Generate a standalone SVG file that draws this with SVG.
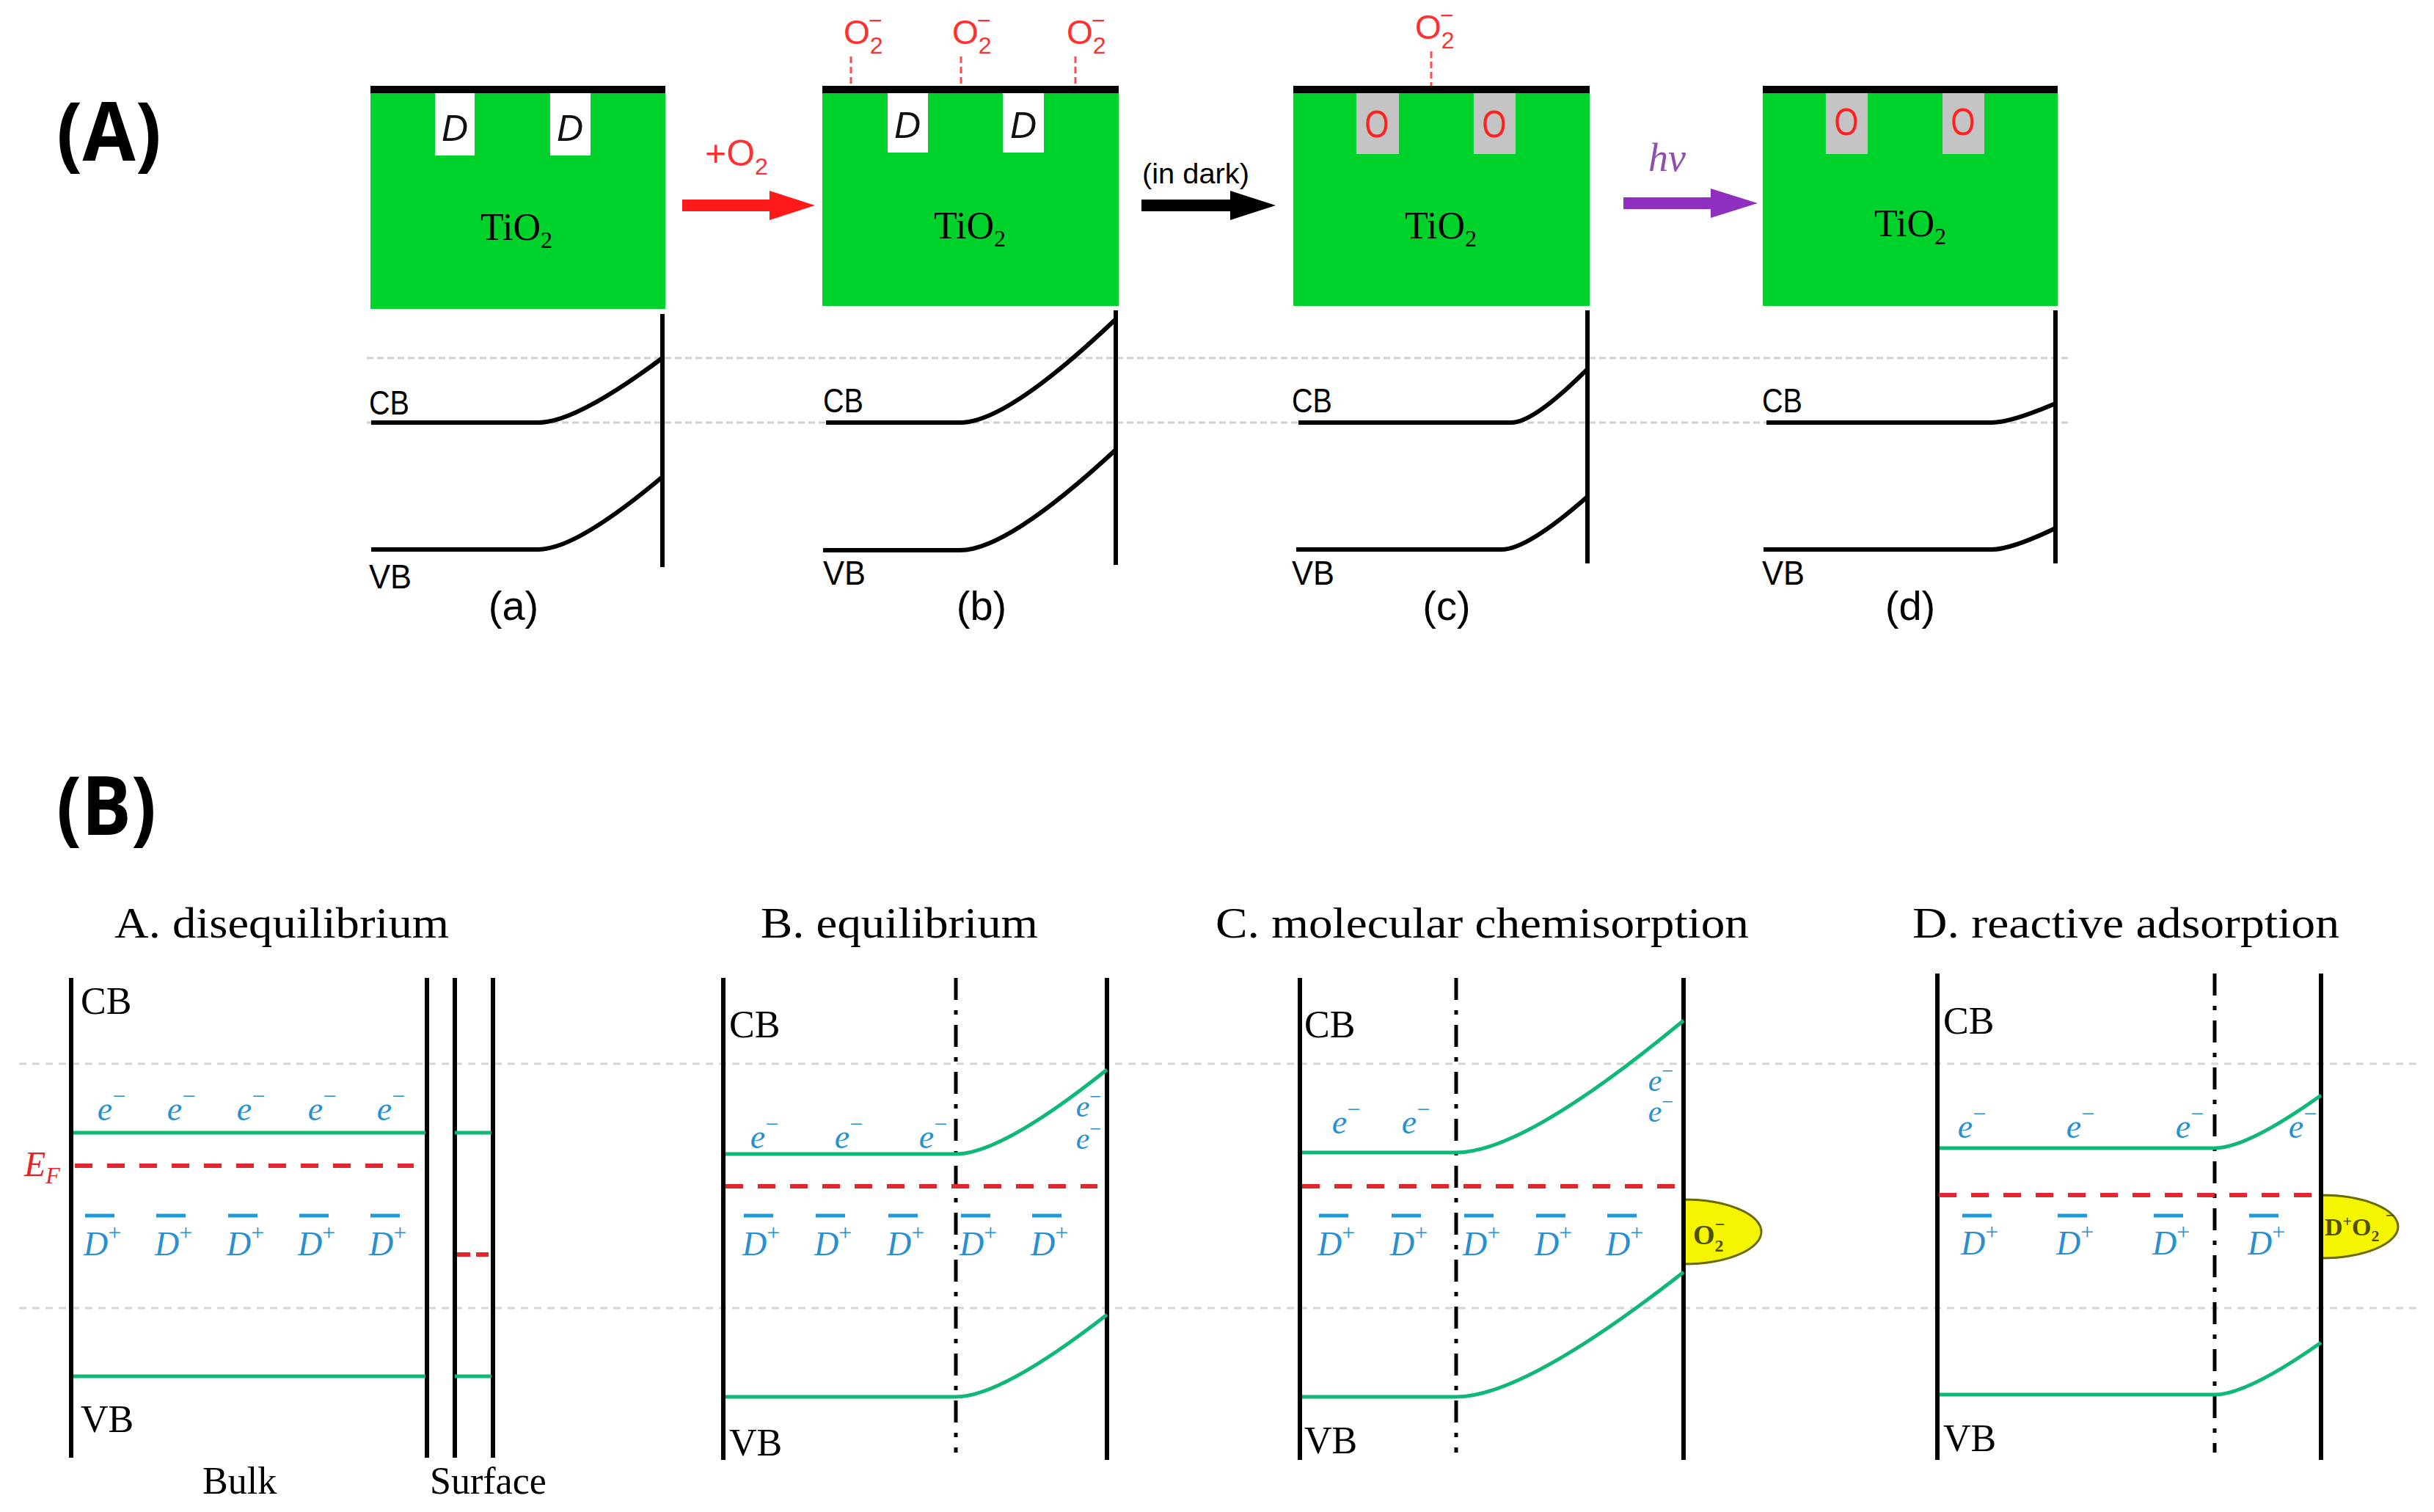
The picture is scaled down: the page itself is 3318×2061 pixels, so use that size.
<svg xmlns="http://www.w3.org/2000/svg" width="3318" height="2061" viewBox="0 0 3318 2061">
<style>
.panel{font-family:"Open Sans","Liberation Sans",sans-serif;font-weight:bold;font-size:112px;fill:#000}
.box{fill:#00d22c}
.bar{fill:#000}
.slotw{fill:#fff}
.slotg{fill:#c4c4c4}
.dlab{font-family:"Liberation Sans",sans-serif;font-style:italic;font-size:50px;fill:#111;text-anchor:middle}
.olab{font-family:"Liberation Sans",sans-serif;font-size:52px;fill:#ff2020;text-anchor:middle}
.tio{font-family:"Liberation Serif",serif;font-size:52px;fill:#000;text-anchor:middle}
.sub{font-size:32px}
.o2r{font-family:"Liberation Sans",sans-serif;font-size:46px;fill:#ff3030}
.rdash{stroke:#ff4a4a;stroke-width:3;stroke-dasharray:9 5;fill:none}
.gdash{stroke:#cfcfcf;stroke-width:3;stroke-dasharray:9 5;fill:none}
.band{stroke:#000;stroke-width:6;fill:none}
.wall{stroke:#000;stroke-width:6}
.lblA{font-family:"Liberation Sans",sans-serif;font-size:46px;fill:#000}
.cap{font-family:"Liberation Sans",sans-serif;font-size:56px;fill:#000;text-anchor:middle}
.arlab{font-family:"Liberation Sans",sans-serif;font-size:38px;fill:#000}
.title{font-family:"Liberation Serif",serif;font-size:60px;fill:#000}
.lblB{font-family:"Liberation Serif",serif;font-size:52px;fill:#000}
.gdot{stroke:#d6d6d6;stroke-width:3;stroke-dasharray:10 8}
.gband{stroke:#0fb877;stroke-width:5;fill:none}
.ef{stroke:#e3262e;stroke-width:6;stroke-dasharray:24 20}
.dd{stroke:#000;stroke-width:5;stroke-dasharray:30 14 6 14}
.el{font-family:"Liberation Serif",serif;font-style:italic;font-size:46px;fill:#2a8fd0}
.sp{font-style:normal;font-size:32px}
.ov{stroke:#1e9ad8;stroke-width:5}
.yel{fill:#f5f500;stroke:#6a6a00;stroke-width:3}
.ylab{font-family:"Liberation Serif",serif;font-weight:bold;font-size:38px;fill:#4f4f00}
</style>
<rect width="3318" height="2061" fill="#fff"/>

<!-- ===== Panel A ===== -->
<text class="panel" x="77" y="219" textLength="143" lengthAdjust="spacingAndGlyphs">(A)</text>

<g id="connectors">
  <g id="arrow-o2">
    <polygon points="930,272 1049,272 1049,260 1111,280 1049,300 1049,288 930,288" fill="#ff1a1a"/>
    <text x="961" y="226" class="o2r" style="font-size:50px">+O<tspan class="sub" dy="12">2</tspan></text>
  </g>
  <g id="arrow-dark">
    <polygon points="1556,272 1677,272 1677,260 1739,280 1677,300 1677,288 1556,288" fill="#000"/>
    <text class="arlab" x="1557" y="250" textLength="146" lengthAdjust="spacingAndGlyphs">(in dark)</text>
  </g>
  <g id="arrow-hv">
    <polygon points="2213,269 2332,269 2332,257 2396,277 2332,297 2332,285 2213,285" fill="#8e2fbf"/>
    <text x="2247" y="233" style="font-family:'Liberation Serif',serif;font-style:italic;font-size:54px;fill:#8e4fae">hν</text>
  </g>
</g>

<line class="gdash" x1="500" y1="488" x2="2820" y2="488"/>
<line class="gdash" x1="500" y1="576" x2="2820" y2="576"/>

<g id="node-a">
  <rect class="box" x="505" y="127" width="402" height="294"/>
  <rect class="bar" x="505" y="117" width="402" height="10"/>
  <rect class="slotw" x="593" y="127" width="54" height="85"/>
  <rect class="slotw" x="750" y="127" width="55" height="85"/>
  <text class="dlab" x="620" y="192">D</text>
  <text class="dlab" x="777" y="192">D</text>
  <text class="tio" x="704" y="327">TiO<tspan class="sub" dy="11">2</tspan></text>
  <line class="wall" x1="903" y1="428" x2="903" y2="773"/>
  <path class="band" d="M506,576 H734 Q785,576 903,488"/>
  <path class="band" d="M506,749 H734 Q785,749 903,650"/>
  <text class="lblA" x="503" y="565" textLength="55" lengthAdjust="spacingAndGlyphs">CB</text>
  <text class="lblA" x="503" y="802" textLength="58" lengthAdjust="spacingAndGlyphs">VB</text>
  <text class="cap" x="700" y="845">(a)</text>
</g>

<g id="node-b">
  <rect class="box" x="1121" y="127" width="404" height="290"/>
  <rect class="bar" x="1121" y="117" width="404" height="10"/>
  <rect class="slotw" x="1210" y="127" width="55" height="81"/>
  <rect class="slotw" x="1367" y="127" width="56" height="81"/>
  <text class="dlab" x="1237" y="188">D</text>
  <text class="dlab" x="1395" y="188">D</text>
  <text class="tio" x="1322" y="325">TiO<tspan class="sub" dy="11">2</tspan></text>
  <line class="rdash" x1="1160" y1="77" x2="1160" y2="117"/>
  <line class="rdash" x1="1310" y1="77" x2="1310" y2="117"/>
  <line class="rdash" x1="1466" y1="77" x2="1466" y2="117"/>
  <text class="o2r" x="1150" y="60">O<tspan class="sub" dy="13">2</tspan><tspan class="sub" x="1184" dy="-34">−</tspan></text>
  <text class="o2r" x="1298" y="60">O<tspan class="sub" dy="13">2</tspan><tspan class="sub" x="1332" dy="-34">−</tspan></text>
  <text class="o2r" x="1454" y="60">O<tspan class="sub" dy="13">2</tspan><tspan class="sub" x="1488" dy="-34">−</tspan></text>
  <line class="wall" x1="1521" y1="423" x2="1521" y2="770"/>
  <path class="band" d="M1126,576 H1309 Q1373,576 1521,435"/>
  <path class="band" d="M1122,750 H1309 Q1373,750 1521,613"/>
  <text class="lblA" x="1122" y="562" textLength="55" lengthAdjust="spacingAndGlyphs">CB</text>
  <text class="lblA" x="1122" y="797" textLength="58" lengthAdjust="spacingAndGlyphs">VB</text>
  <text class="cap" x="1338" y="845">(b)</text>
</g>

<g id="node-c">
  <rect class="box" x="1763" y="127" width="404" height="290"/>
  <rect class="bar" x="1763" y="117" width="404" height="10"/>
  <rect class="slotg" x="1849" y="127" width="58" height="83"/>
  <rect class="slotg" x="2009" y="127" width="57" height="83"/>
  <text class="olab" x="1877" y="187" textLength="33" lengthAdjust="spacingAndGlyphs">O</text>
  <text class="olab" x="2037" y="187" textLength="33" lengthAdjust="spacingAndGlyphs">O</text>
  <text class="tio" x="1964" y="325">TiO<tspan class="sub" dy="11">2</tspan></text>
  <line class="rdash" x1="1951" y1="70" x2="1951" y2="117"/>
  <text class="o2r" x="1929" y="53">O<tspan class="sub" dy="13">2</tspan><tspan class="sub" x="1963" dy="-34">−</tspan></text>
  <line class="wall" x1="2164" y1="423" x2="2164" y2="768"/>
  <path class="band" d="M1770,576 H2060 Q2091,576 2164,503"/>
  <path class="band" d="M1767,749 H2047 Q2082,749 2164,677"/>
  <text class="lblA" x="1761" y="562" textLength="55" lengthAdjust="spacingAndGlyphs">CB</text>
  <text class="lblA" x="1761" y="797" textLength="58" lengthAdjust="spacingAndGlyphs">VB</text>
  <text class="cap" x="1972" y="845">(c)</text>
</g>

<g id="node-d">
  <rect class="box" x="2403" y="127" width="402" height="290"/>
  <rect class="bar" x="2403" y="117" width="402" height="10"/>
  <rect class="slotg" x="2489" y="127" width="57" height="83"/>
  <rect class="slotg" x="2648" y="127" width="57" height="83"/>
  <text class="olab" x="2517" y="184" textLength="33" lengthAdjust="spacingAndGlyphs">O</text>
  <text class="olab" x="2676" y="184" textLength="33" lengthAdjust="spacingAndGlyphs">O</text>
  <text class="tio" x="2604" y="322">TiO<tspan class="sub" dy="11">2</tspan></text>
  <line class="wall" x1="2802" y1="423" x2="2802" y2="768"/>
  <path class="band" d="M2408,576 H2715 Q2741,576 2802,550"/>
  <path class="band" d="M2404,749 H2715 Q2741,749 2802,720"/>
  <text class="lblA" x="2402" y="562" textLength="55" lengthAdjust="spacingAndGlyphs">CB</text>
  <text class="lblA" x="2402" y="797" textLength="58" lengthAdjust="spacingAndGlyphs">VB</text>
  <text class="cap" x="2604" y="845">(d)</text>
</g>

<!-- ===== Panel B ===== -->
<text class="panel" x="77" y="1138" textLength="136" lengthAdjust="spacingAndGlyphs">(B)</text>

<line class="gdot" x1="26" y1="1450" x2="3300" y2="1450"/>
<line class="gdot" x1="26" y1="1783" x2="3300" y2="1783"/>

<g id="node-disequilibrium">
  <text class="title" x="156" y="1278" textLength="456" lengthAdjust="spacingAndGlyphs">A. disequilibrium</text>
  <line class="wall" x1="97" y1="1333" x2="97" y2="1987"/>
  <line class="wall" x1="582" y1="1333" x2="582" y2="1987"/>
  <line class="wall" x1="620" y1="1333" x2="620" y2="1987"/>
  <line class="wall" x1="672" y1="1333" x2="672" y2="1987"/>
  <line class="gband" x1="100" y1="1544" x2="580" y2="1544"/>
  <line class="gband" x1="620" y1="1544" x2="670" y2="1544"/>
  <line class="gband" x1="100" y1="1876" x2="580" y2="1876"/>
  <line class="gband" x1="620" y1="1876" x2="670" y2="1876"/>
  <line class="ef" x1="102" y1="1589" x2="564" y2="1589"/>
  <line class="ef" x1="623" y1="1710" x2="666" y2="1710" style="stroke-dasharray:18 8"/>
  <text x="33" y="1603" style="font-family:'Liberation Serif',serif;font-style:italic;font-size:48px;fill:#e3262e">E<tspan font-size="32" dy="10">F</tspan></text>
  <text class="lblB" x="110" y="1382">CB</text>
  <text class="lblB" x="110" y="1952">VB</text>
  <text class="lblB" x="276" y="2036">Bulk</text>
  <text class="lblB" x="586" y="2036">Surface</text>
  <g text-anchor="middle">
    <text class="el" x="152" y="1527">e<tspan class="sp" dy="-22">−</tspan></text>
    <text class="el" x="247" y="1527">e<tspan class="sp" dy="-22">−</tspan></text>
    <text class="el" x="342" y="1527">e<tspan class="sp" dy="-22">−</tspan></text>
    <text class="el" x="439" y="1527">e<tspan class="sp" dy="-22">−</tspan></text>
    <text class="el" x="533" y="1527">e<tspan class="sp" dy="-22">−</tspan></text>
  </g>
  <line class="ov" x1="116" y1="1657" x2="156" y2="1657"/>
  <line class="ov" x1="213" y1="1657" x2="253" y2="1657"/>
  <line class="ov" x1="311" y1="1657" x2="351" y2="1657"/>
  <line class="ov" x1="408" y1="1657" x2="448" y2="1657"/>
  <line class="ov" x1="505" y1="1657" x2="545" y2="1657"/>
  <text class="el" x="114" y="1711">D<tspan class="sp" dy="-20">+</tspan></text>
  <text class="el" x="211" y="1711">D<tspan class="sp" dy="-20">+</tspan></text>
  <text class="el" x="309" y="1711">D<tspan class="sp" dy="-20">+</tspan></text>
  <text class="el" x="406" y="1711">D<tspan class="sp" dy="-20">+</tspan></text>
  <text class="el" x="503" y="1711">D<tspan class="sp" dy="-20">+</tspan></text>
</g>

<g id="node-equilibrium">
  <text class="title" x="1037" y="1278" textLength="378" lengthAdjust="spacingAndGlyphs">B. equilibrium</text>
  <line class="wall" x1="986" y1="1333" x2="986" y2="1990"/>
  <line class="wall" x1="1509" y1="1333" x2="1509" y2="1990"/>
  <line class="dd" x1="1303" y1="1333" x2="1303" y2="1980"/>
  <path class="gband" d="M989,1573 H1303 Q1365,1573 1509,1458"/>
  <path class="gband" d="M989,1904 H1303 Q1365,1904 1509,1792"/>
  <line class="ef" x1="989" y1="1617" x2="1496" y2="1617"/>
  <text class="lblB" x="994" y="1414">CB</text>
  <text class="lblB" x="994" y="1984">VB</text>
  <g text-anchor="middle">
    <text class="el" x="1042" y="1565">e<tspan class="sp" dy="-22">−</tspan></text>
    <text class="el" x="1157" y="1565">e<tspan class="sp" dy="-22">−</tspan></text>
    <text class="el" x="1272" y="1565">e<tspan class="sp" dy="-22">−</tspan></text>
    <text class="el" x="1484" y="1522" style="font-size:42px">e<tspan class="sp" dy="-18" style="font-size:28px">−</tspan></text>
    <text class="el" x="1484" y="1566" style="font-size:42px">e<tspan class="sp" dy="-18" style="font-size:28px">−</tspan></text>
  </g>
  <line class="ov" x1="1014" y1="1657" x2="1054" y2="1657"/>
  <line class="ov" x1="1112" y1="1657" x2="1152" y2="1657"/>
  <line class="ov" x1="1211" y1="1657" x2="1251" y2="1657"/>
  <line class="ov" x1="1310" y1="1657" x2="1350" y2="1657"/>
  <line class="ov" x1="1407" y1="1657" x2="1447" y2="1657"/>
  <text class="el" x="1012" y="1711">D<tspan class="sp" dy="-20">+</tspan></text>
  <text class="el" x="1110" y="1711">D<tspan class="sp" dy="-20">+</tspan></text>
  <text class="el" x="1209" y="1711">D<tspan class="sp" dy="-20">+</tspan></text>
  <text class="el" x="1308" y="1711">D<tspan class="sp" dy="-20">+</tspan></text>
  <text class="el" x="1405" y="1711">D<tspan class="sp" dy="-20">+</tspan></text>
</g>

<g id="node-molecular-chemisorption">
  <text class="title" x="1657" y="1278" textLength="727" lengthAdjust="spacingAndGlyphs">C. molecular chemisorption</text>
  <path class="yel" d="M2295,1635 A106,44 0 0 1 2295,1723 Z"/>
  <line class="wall" x1="1772" y1="1333" x2="1772" y2="1990"/>
  <line class="wall" x1="2295" y1="1333" x2="2295" y2="1990"/>
  <line class="dd" x1="1985" y1="1333" x2="1985" y2="1980"/>
  <path class="gband" d="M1775,1571 H1985 Q2078,1571 2295,1391"/>
  <path class="gband" d="M1775,1904 H1985 Q2078,1904 2295,1734"/>
  <line class="ef" x1="1775" y1="1617" x2="2283" y2="1617"/>
  <text class="lblB" x="1778" y="1414">CB</text>
  <text class="lblB" x="1778" y="1981">VB</text>
  <g text-anchor="middle">
    <text class="el" x="1835" y="1545">e<tspan class="sp" dy="-22">−</tspan></text>
    <text class="el" x="1930" y="1545">e<tspan class="sp" dy="-22">−</tspan></text>
    <text class="el" x="2264" y="1487" style="font-size:42px">e<tspan class="sp" dy="-18" style="font-size:28px">−</tspan></text>
    <text class="el" x="2264" y="1529" style="font-size:42px">e<tspan class="sp" dy="-18" style="font-size:28px">−</tspan></text>
  </g>
  <line class="ov" x1="1798" y1="1657" x2="1838" y2="1657"/>
  <line class="ov" x1="1897" y1="1657" x2="1937" y2="1657"/>
  <line class="ov" x1="1996" y1="1657" x2="2036" y2="1657"/>
  <line class="ov" x1="2094" y1="1657" x2="2134" y2="1657"/>
  <line class="ov" x1="2191" y1="1657" x2="2231" y2="1657"/>
  <text class="el" x="1796" y="1711">D<tspan class="sp" dy="-20">+</tspan></text>
  <text class="el" x="1895" y="1711">D<tspan class="sp" dy="-20">+</tspan></text>
  <text class="el" x="1994" y="1711">D<tspan class="sp" dy="-20">+</tspan></text>
  <text class="el" x="2092" y="1711">D<tspan class="sp" dy="-20">+</tspan></text>
  <text class="el" x="2189" y="1711">D<tspan class="sp" dy="-20">+</tspan></text>
  <text class="ylab" x="2308" y="1696">O<tspan font-size="24" dy="10">2</tspan><tspan font-size="24" x="2338" dy="-29">−</tspan></text>
</g>

<g id="node-reactive-adsorption">
  <text class="title" x="2607" y="1278" textLength="582" lengthAdjust="spacingAndGlyphs">D. reactive adsorption</text>
  <path class="yel" d="M3164,1629 A105,43 0 0 1 3164,1715 Z"/>
  <line class="wall" x1="2641" y1="1327" x2="2641" y2="1990"/>
  <line class="wall" x1="3164" y1="1327" x2="3164" y2="1990"/>
  <line class="dd" x1="3019" y1="1327" x2="3019" y2="1980"/>
  <path class="gband" d="M2644,1565 H3019 Q3063,1565 3164,1493"/>
  <path class="gband" d="M2644,1901 H3019 Q3063,1901 3164,1830"/>
  <line class="ef" x1="2643" y1="1629" x2="3152" y2="1629"/>
  <text class="lblB" x="2649" y="1409">CB</text>
  <text class="lblB" x="2649" y="1978">VB</text>
  <g text-anchor="middle">
    <text class="el" x="2688" y="1551">e<tspan class="sp" dy="-22">−</tspan></text>
    <text class="el" x="2836" y="1551">e<tspan class="sp" dy="-22">−</tspan></text>
    <text class="el" x="2985" y="1551">e<tspan class="sp" dy="-22">−</tspan></text>
    <text class="el" x="3139" y="1551">e<tspan class="sp" dy="-22">−</tspan></text>
  </g>
  <line class="ov" x1="2675" y1="1657" x2="2715" y2="1657"/>
  <line class="ov" x1="2805" y1="1657" x2="2845" y2="1657"/>
  <line class="ov" x1="2936" y1="1657" x2="2976" y2="1657"/>
  <line class="ov" x1="3066" y1="1657" x2="3106" y2="1657"/>
  <text class="el" x="2673" y="1710">D<tspan class="sp" dy="-20">+</tspan></text>
  <text class="el" x="2803" y="1710">D<tspan class="sp" dy="-20">+</tspan></text>
  <text class="el" x="2934" y="1710">D<tspan class="sp" dy="-20">+</tspan></text>
  <text class="el" x="3064" y="1710">D<tspan class="sp" dy="-20">+</tspan></text>
  <text class="ylab" x="3169" y="1684" style="font-size:34px">D<tspan font-size="22" dy="-12">+</tspan><tspan dy="12">O</tspan><tspan font-size="22" dy="8">2</tspan><tspan font-size="22" x="3252" dy="-28">−</tspan></text>
</g>
</svg>
